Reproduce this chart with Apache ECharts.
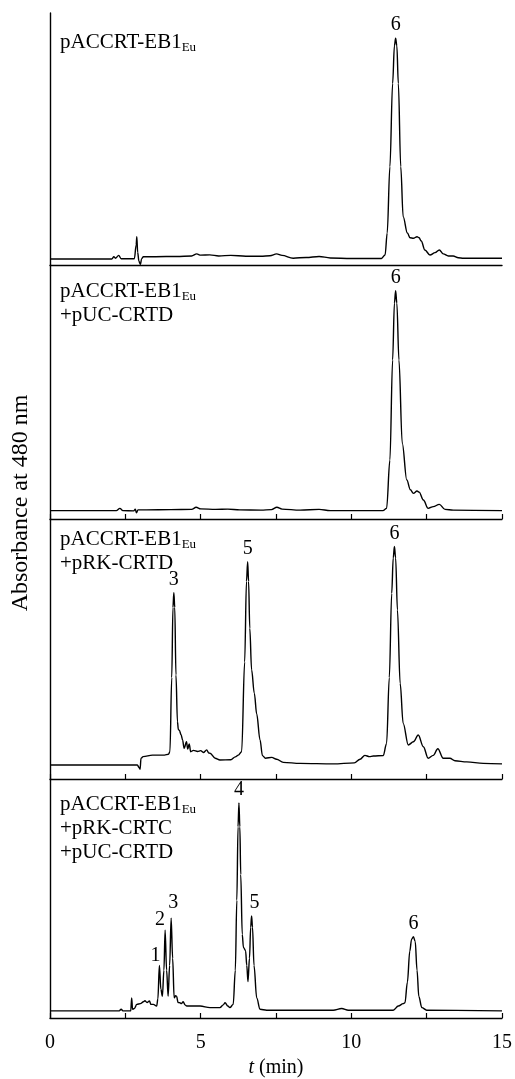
<!DOCTYPE html>
<html><head><meta charset="utf-8">
<script src="https://cdn.jsdelivr.net/npm/echarts@6/dist/echarts.min.js"></script>
<style>html,body{margin:0;padding:0;background:#fff}#c{width:515px;height:1079px}</style>
</head><body><div id="c"></div>
<script>
// ---------- DATA ----------
const sampleLines = [
  ['pACCRT-EB1|Eu'],
  ['pACCRT-EB1|Eu', '+pUC-CRTD'],
  ['pACCRT-EB1|Eu', '+pRK-CRTD'],
  ['pACCRT-EB1|Eu', '+pRK-CRTC', '+pUC-CRTD']
];
const xTickLabels = ['0', '5', '10', '15'];
const yAxisTitle = 'Absorbance at 480 nm';
const xAxisTitle = ['t', ' (min)'];

// absorbance (arbitrary units) vs retention time t (min)
const trace1 = [[0,2.4],[2.05,2.4],[2.12,3.3],[2.17,2.7],[2.28,3.8],[2.36,2.5],[2.8,2.5],[2.86,8],[2.88,11.2],[2.91,5],[2.95,1.5],[3.0,0.2],[3.04,2.5],[3.1,3.3],[3.5,3.3],[4.2,3.4],[4.7,3.6],[4.87,4.4],[5.0,3.9],[5.3,4.0],[5.6,3.6],[6.0,3.8],[6.5,3.5],[7.0,3.5],[7.3,3.7],[7.52,4.4],[7.7,3.8],[8.07,2.7],[8.5,3.0],[8.93,3.4],[9.3,2.8],[10,2.6],[11.0,2.6],[11.12,3.97],[11.19,12.7],[11.28,39],[11.37,72],[11.43,87],[11.47,90],[11.51,87],[11.56,72],[11.64,39],[11.72,19.2],[11.86,12.7],[11.95,10.8],[12.06,10.6],[12.18,11.2],[12.25,10.8],[12.32,9.5],[12.44,5.95],[12.61,3.97],[12.78,4.9],[12.92,5.95],[13.05,4.4],[13.22,3.6],[13.38,3.6],[13.55,2.9],[13.72,2.66],[15,2.66]];
const trace2 = [[0,3.3],[2.2,3.3],[2.32,4.2],[2.42,3.3],[2.78,3.2],[2.83,3.9],[2.87,2.4],[2.92,3.6],[3.2,3.6],[4.0,3.7],[4.7,3.8],[4.85,4.6],[5.0,4.0],[5.5,3.8],[5.9,3.9],[6.3,3.6],[7.0,3.5],[7.35,3.7],[7.53,4.6],[7.7,3.9],[8.3,3.5],[8.93,3.8],[9.3,3.3],[11.05,3.3],[11.17,4.2],[11.28,23.2],[11.37,62.6],[11.43,85],[11.47,89.9],[11.51,85],[11.58,62.6],[11.69,29.8],[11.84,15.4],[11.96,11.5],[12.06,10.1],[12.18,11.0],[12.25,10.6],[12.39,7.5],[12.55,4.2],[12.72,4.86],[12.92,5.77],[13.11,3.8],[13.38,3.5],[15,3.3]];
const trace3 = [[0,5.4],[2.9,5.4],[2.95,4.5],[2.99,3.7],[3.02,8.0],[3.09,8.6],[3.4,9.2],[3.8,9.2],[3.93,9.5],[3.98,10.5],[4.04,39],[4.08,66],[4.11,71.7],[4.14,66],[4.18,40],[4.23,22],[4.26,19],[4.29,18.8],[4.35,17],[4.40,15],[4.45,11.8],[4.53,14.3],[4.57,11.5],[4.62,13.5],[4.67,10.5],[4.76,11.0],[4.9,10.6],[5.0,10.9],[5.09,10.2],[5.2,11.2],[5.27,10.0],[5.31,9.9],[5.48,8.0],[5.64,7.3],[6.0,7.4],[6.15,8.5],[6.25,9.2],[6.36,10.5],[6.46,45],[6.52,76],[6.56,83.6],[6.59,76],[6.63,58],[6.69,42],[6.78,33],[6.86,25],[6.97,15],[7.05,9],[7.15,8.0],[7.36,8.3],[7.52,7.6],[7.74,6.4],[8.3,6.0],[9.4,5.8],[10.1,6.2],[10.29,7.6],[10.45,9.1],[10.6,8.6],[10.73,8.85],[11.06,9.0],[11.17,13.7],[11.26,39],[11.34,71.4],[11.39,85],[11.43,89.4],[11.47,85],[11.53,65],[11.62,36.8],[11.72,21.4],[11.89,13.1],[12.06,14.3],[12.22,16.9],[12.39,12.4],[12.55,8.0],[12.72,9.1],[12.87,11.65],[13.05,8.0],[13.27,8.0],[13.44,7.0],[13.83,6.6],[14.38,6.0],[15,5.8]];
const trace4 = [[0,3.0],[2.3,3.0],[2.36,3.7],[2.42,3.0],[2.68,3.0],[2.71,8.4],[2.74,3.67],[2.8,4.0],[2.88,5.7],[3.0,6.0],[3.1,6.8],[3.15,7.2],[3.22,6.5],[3.3,7.1],[3.35,5.7],[3.43,5.7],[3.54,5.0],[3.58,8],[3.63,22],[3.68,12],[3.73,9.1],[3.78,20],[3.82,36.7],[3.87,20],[3.92,9.1],[3.97,22],[4.02,41.8],[4.07,25],[4.12,8.4],[4.17,9.3],[4.2,9.1],[4.25,6.5],[4.31,6.4],[4.36,6.0],[4.42,6.8],[4.48,5.5],[4.54,5.0],[4.76,5.0],[4.98,5.0],[5.31,4.35],[5.64,4.35],[5.75,5.5],[5.81,6.4],[5.9,5.0],[5.97,4.35],[6.08,5.7],[6.15,20],[6.2,49.3],[6.24,80],[6.27,90],[6.30,80],[6.33,60],[6.38,35],[6.42,29.5],[6.49,28.2],[6.53,22],[6.57,15.2],[6.62,25],[6.66,38],[6.69,42.7],[6.72,38],[6.77,22],[6.86,8.4],[6.97,3.67],[7.19,3.27],[9.4,3.27],[9.68,3.95],[9.9,3.27],[11.39,3.27],[11.56,5.0],[11.72,6.0],[11.78,6.4],[11.86,15],[11.94,28],[12.0,33],[12.06,34],[12.12,32],[12.18,20],[12.24,9],[12.34,4.35],[12.5,3.27],[15,3.0]];

const peakTimes = [[11.47],[11.47],[4.11,6.56,11.43],[3.63,3.82,4.02,6.27,6.69,12.06]];
const peakNames = [['6'],['6'],['3','5','6'],['1','2','3','4','5','6']];

// ---------- LAYOUT / STYLE ----------
const traces = [trace1, trace2, trace3, trace4];
const gridTops = [13, 265, 519, 779];
const gridHeights = [252, 254, 260, 245];
const titleTops = [30, 279, 527, 792];
const labelOffsets = {'3-0':[-4,3],'3-1':[-5,2],'3-2':[2,-2],'3-4':[3,0]};
const FONT = '"Liberation Serif","Times New Roman",serif';

function peakValue(tr, t) {
  let best = 0;
  tr.forEach(p => { if (Math.abs(p[0] - t) < 0.05 && p[1] > best) best = p[1]; });
  return best;
}

const chart = echarts.init(document.getElementById('c'), null, {renderer: 'canvas'});
const grids = [], xAxes = [], yAxes = [], series = [], titles = [];
for (let i = 0; i < 4; i++) {
  grids.push({left: 50, right: 13, top: gridTops[i], height: gridHeights[i], containLabel: false});
  const last = i === 3;
  xAxes.push({
    type: 'value', gridIndex: i, min: 0, max: 15, interval: 2.5,
    axisLine: {show: true, onZero: false, lineStyle: {color: '#000', width: 1.4}},
    axisTick: {show: i > 0, inside: true, length: 5, lineStyle: {color: '#000', width: 1.2}},
    splitLine: {show: false},
    axisLabel: {show: last, color: '#000', fontFamily: FONT, fontSize: 20, margin: 15,
      formatter: v => xTickLabels.indexOf(String(v)) >= 0 ? String(v) : ''},
    name: last ? '{i|' + xAxisTitle[0] + '}' + xAxisTitle[1] : '',
    nameLocation: 'middle', nameGap: 40,
    nameTextStyle: {color: '#000', fontFamily: FONT, fontSize: 20,
      rich: {i: {fontStyle: 'italic', fontFamily: FONT, fontSize: 20, color: '#000'}}}
  });
  yAxes.push({
    type: 'value', gridIndex: i, min: 0, max: 100,
    axisLine: {show: true, lineStyle: {color: '#000', width: 1.4}},
    axisTick: {show: false}, axisLabel: {show: false}, splitLine: {show: false}
  });
  series.push({
    type: 'line', xAxisIndex: i, yAxisIndex: i, data: traces[i],
    showSymbol: false, smooth: 0.35, smoothMonotone: 'x',
    lineStyle: {color: '#000', width: 1.4}, silent: true
  });
  series.push({
    type: 'scatter', xAxisIndex: i, yAxisIndex: i, symbolSize: 0,
    itemStyle: {color: '#000', opacity: 1}, silent: true,
    data: peakTimes[i].map((t, k) => ({
      value: [t, peakValue(traces[i], t)], name: peakNames[i][k],
      label: {offset: labelOffsets[i + '-' + k] || [0, 0]}
    })),
    label: {show: true, position: 'top', distance: 3, formatter: p => p.name,
      color: '#000', opacity: 1, fontFamily: FONT, fontSize: 20, fontWeight: 'normal'}
  });
  const txt = sampleLines[i].map(l => {
    const parts = l.split('|');
    return '{a|' + parts[0] + '}' + (parts[1] ? '{s|' + parts[1] + '}' : '');
  }).join('\n');
  titles.push({
    text: txt, left: 60, top: titleTops[i], padding: 0,
    textStyle: {fontWeight: 'normal', fontFamily: FONT, color: '#000', rich: {
      a: {fontFamily: FONT, fontSize: 21, fontWeight: 'normal', lineHeight: 24, color: '#000'},
      s: {fontFamily: FONT, fontSize: 13, fontWeight: 'normal', lineHeight: 10, verticalAlign: 'bottom', color: '#000'}
    }}
  });
}

chart.setOption({
  animation: false,
  backgroundColor: '#fff',
  title: titles,
  grid: grids, xAxis: xAxes, yAxis: yAxes, series: series,
  graphic: [{
    type: 'text', x: 21, y: 503, rotation: Math.PI / 2, silent: true,
    style: {text: yAxisTitle, font: '24px ' + FONT, fill: '#000', align: 'center', verticalAlign: 'middle'}
  }]
});
</script></body></html>
